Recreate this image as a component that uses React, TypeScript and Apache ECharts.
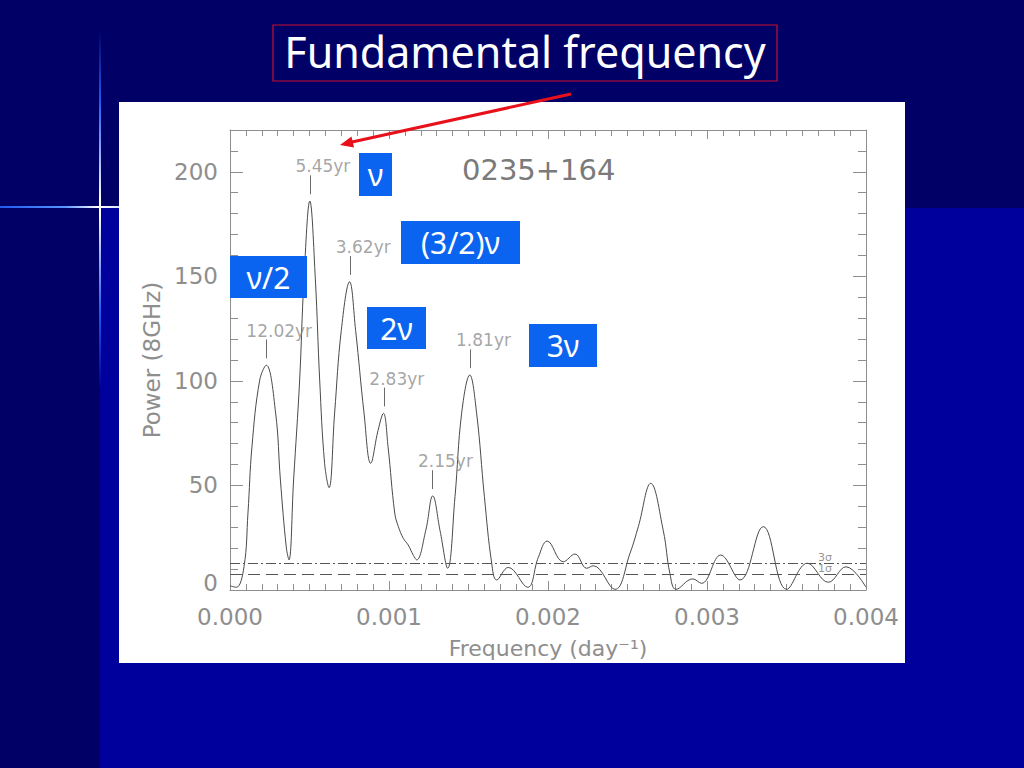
import React, { useEffect, useRef } from "react";
import * as echarts from "echarts";

// Periodogram of 0235+164 (power at 8 GHz vs frequency in day^-1)
const frequency = [
  0, 0.00004, 0.000088, 0.000113, 0.000138, 0.000187, 0.000228, 0.000287, 0.000317, 0.000354,
  0.000371, 0.0004, 0.000438, 0.000465, 0.000502, 0.000537, 0.000564, 0.000595, 0.000623, 0.000658,
  0.0007, 0.000752, 0.00079, 0.000843, 0.000885, 0.000931, 0.000965, 0.000994, 0.001036, 0.001059,
  0.00109, 0.001121, 0.001153, 0.001174, 0.001231, 0.001275, 0.001321, 0.001369, 0.001415, 0.001457,
  0.001508, 0.001551, 0.0016, 0.001646, 0.001677, 0.00175, 0.001872, 0.001939, 0.001995, 0.002096,
  0.00217, 0.002243, 0.002285, 0.002421, 0.002516, 0.002568, 0.002646, 0.002725, 0.002767, 0.002805,
  0.00291, 0.002966, 0.003086, 0.003208, 0.003354, 0.003501, 0.003631, 0.003763, 0.003874, 0.004,
];
const power = [
  2, 1.3, 11.1, 36.8, 68.5, 100.4, 107.5, 84.6, 52.6, 20.5,
  14.4, 52.6, 100.4, 148.3, 186, 148.3, 100.4, 60.6, 48.9, 84.6,
  124.2, 147.4, 124.2, 84.6, 60.6, 76.3, 84.5, 68.5, 36.8, 30.3,
  24.7, 21.5, 16.6, 14.4, 28.4, 45, 28.4, 10.4, 44.6, 84.6,
  102.8, 84.6, 44.6, 12.8, 4.8, 10.8, 1.3, 15.6, 23.4, 13.5,
  17.2, 10.4, 11.6, 0.3, 17.6, 30.3, 51, 28.4, 7.8, 0.3,
  5.3, 3.2, 16.7, 4.8, 30.3, 0.3, 12.8, 3.7, 11.1, 1.3,
];

const periodLabels = ["12.02yr", "5.45yr", "3.62yr", "2.83yr", "2.15yr", "1.81yr"];
const periodYears = [12.02, 5.45, 3.62, 2.83, 2.15, 1.81];
const periodPeakPower = [107.5, 186, 147.4, 84.5, 45, 102.8];

const sigmaLabels = ["3σ", "1σ"];
const sigmaLevels = [12.8, 7.5];

const harmonicLabels = ["ν", "(3/2)ν", "ν/2", "2ν", "3ν"];
const sourceName = "0235+164";
const slideTitle = "Fundamental frequency";
const xAxisTitle = "Frequency (day⁻¹)";
const yAxisTitle = "Power (8GHz)";

const GRAY = "#8e8e8e";
const FONT = "DejaVu Sans";

export default function App() {
  const ref = useRef<HTMLDivElement>(null);

  useEffect(() => {
    if (!ref.current) return;
    const chart = echarts.init(ref.current, undefined, { renderer: "svg" });

    const axisCommon = {
      type: "value" as const,
      axisLine: { show: true, onZero: false, lineStyle: { color: GRAY, width: 1 } },
      splitLine: { show: false },
    };

    const boxes = [
      { x: 359, y: 153, w: 33, h: 43 },
      { x: 401, y: 221, w: 119, h: 43 },
      { x: 230, y: 256, w: 77, h: 42 },
      { x: 367, y: 307, w: 59, h: 42 },
      { x: 529, y: 324, w: 68, h: 43 },
    ];

    const graphics: any[] = [
      { type: "rect", z: -20, shape: { x: 100, y: 208, width: 924, height: 560 }, style: { fill: "#00009c" } },
      { type: "rect", z: -19, shape: { x: 904, y: 208, width: 1, height: 455 }, style: { fill: "#3a64ff" } },
      { type: "rect", z: -18, shape: { x: 119, y: 102, width: 786, height: 561 }, style: { fill: "#ffffff" } },
      {
        type: "rect", z: -17, shape: { x: 99, y: 30, width: 2, height: 360 },
        style: {
          fill: new echarts.graphic.LinearGradient(0, 0, 0, 1, [
            { offset: 0, color: "rgba(40,100,255,0)" },
            { offset: 0.2, color: "rgba(40,100,255,0.9)" },
            { offset: 0.47, color: "#ffffff" },
            { offset: 0.51, color: "#ffffff" },
            { offset: 0.78, color: "rgba(40,100,255,0.9)" },
            { offset: 1, color: "rgba(40,100,255,0)" },
          ]),
        },
      },
      {
        type: "rect", z: -17, shape: { x: 0, y: 206, width: 119, height: 2 },
        style: {
          fill: new echarts.graphic.LinearGradient(0, 0, 1, 0, [
            { offset: 0, color: "rgba(40,100,255,0.9)" },
            { offset: 0.55, color: "rgba(90,150,255,1)" },
            { offset: 0.82, color: "#ffffff" },
            { offset: 1, color: "#dde8ff" },
          ]),
        },
      },
      { type: "rect", z: 40, shape: { x: 273, y: 25, width: 504, height: 56 }, style: { fill: "none", stroke: "#c8102e", lineWidth: 1.2 } },
      {
        type: "text", z: 41, x: 525, y: 51,
        style: { text: slideTitle, fill: "#ffffff", fontSize: 43, fontFamily: "Noto Sans", align: "center", verticalAlign: "middle", textAlign: "center", textVerticalAlign: "middle" },
      },
      { type: "line", z: 50, shape: { x1: 571, y1: 94, x2: 352, y2: 142 }, style: { stroke: "#e8101a", lineWidth: 3 } },
      { type: "polygon", z: 50, shape: { points: [[340, 145], [354, 147.5], [351.5, 136.5]] }, style: { fill: "#e8101a" } },
      {
        type: "text", z: 30, x: 462, y: 170,
        style: { text: sourceName, fill: "#7a7a7a", fontSize: 29, fontFamily: FONT, align: "left", verticalAlign: "middle", textAlign: "left", textVerticalAlign: "middle" },
      },
    ];
    harmonicLabels.forEach((lab, i) => {
      const b = boxes[i];
      graphics.push({ type: "rect", z: 60, shape: { x: b.x, y: b.y, width: b.w, height: b.h }, style: { fill: "#0a64f0" } });
      graphics.push({
        type: "text", z: 61, x: b.x + b.w / 2, y: b.y + b.h / 2,
        style: { text: lab, fill: "#ffffff", fontSize: 30, fontFamily: "Noto Sans", align: "center", verticalAlign: "middle", textAlign: "center", textVerticalAlign: "middle" },
      });
    });

    const option: any = {
      animation: false,
      backgroundColor: "#000066",
      grid: { left: 230, right: 158, top: 130, bottom: 178, containLabel: false },
      xAxis: [
        {
          ...axisCommon,
          position: "bottom",
          min: 0, max: 0.004, interval: 0.001,
          axisTick: { show: true, inside: true, length: 9, lineStyle: { color: GRAY } },
          minorTick: { show: true, splitNumber: 10, length: 6, lineStyle: { color: GRAY } },
          axisLabel: { formatter: (v: number) => v.toFixed(3), color: GRAY, fontSize: 23, fontFamily: FONT, margin: 15 },
          name: xAxisTitle, nameLocation: "middle", nameGap: 47,
          nameTextStyle: { color: GRAY, fontSize: 22, fontFamily: FONT },
        },
        {
          ...axisCommon,
          position: "top",
          min: 0, max: 0.004, interval: 0.001,
          axisTick: { show: true, inside: true, length: 9, lineStyle: { color: GRAY } },
          minorTick: { show: true, splitNumber: 10, length: 6, lineStyle: { color: GRAY } },
          axisLabel: { show: false },
        },
      ],
      yAxis: [
        {
          ...axisCommon,
          position: "left",
          min: 0, max: 220, interval: 50,
          axisTick: { show: true, inside: true, length: 13, lineStyle: { color: GRAY } },
          minorTick: { show: true, splitNumber: 5, length: 8, lineStyle: { color: GRAY } },
          axisLabel: {
            color: GRAY, fontSize: 23, fontFamily: FONT, margin: 12, showMaxLabel: false,
            formatter: (v: number) => (v === 0 ? "{z|0}" : v > 200 ? "" : String(v)),
            rich: { z: { color: GRAY, fontSize: 23, fontFamily: FONT, padding: [0, 0, 14, 0] } },
          },
          name: yAxisTitle, nameLocation: "middle", nameGap: 66,
          nameTextStyle: { color: GRAY, fontSize: 23, fontFamily: FONT },
        },
        {
          ...axisCommon,
          position: "right",
          min: 0, max: 220, interval: 50,
          axisTick: { show: true, inside: true, length: 13, lineStyle: { color: GRAY } },
          minorTick: { show: true, splitNumber: 5, length: 8, lineStyle: { color: GRAY } },
          axisLabel: { show: false },
        },
      ],
      graphic: { elements: graphics },
      series: [
        {
          type: "line",
          data: frequency.map((f, i) => [f, power[i]]),
          smooth: 0.4,
          showSymbol: false,
          symbol: "none",
          lineStyle: { color: "#4a4a4a", width: 1 },
          silent: true,
          z: 3,
          markLine: {
            silent: true,
            symbol: ["none", "none"],
            label: { show: false },
            data: [
              ...periodYears.map((p, i) => [
                { coord: [1 / (p * 365.25), periodPeakPower[i] + 3.3], lineStyle: { color: "#6a6a6a", type: "solid", width: 1 } },
                { coord: [1 / (p * 365.25), periodPeakPower[i] + 12.3] },
              ]),
              { yAxis: sigmaLevels[0], lineStyle: { color: "#555555", type: [10, 3, 2, 3], width: 1 } },
              { yAxis: sigmaLevels[1], lineStyle: { color: "#555555", type: [12, 6], width: 1 } },
            ],
          },
        },
        {
          type: "scatter",
          silent: true,
          symbolSize: 1,
          itemStyle: { color: "transparent" },
          z: 4,
          data: periodYears.map((p, i) => ({ name: periodLabels[i], value: [1 / (p * 365.25), periodPeakPower[i] + 12.3] })),
          label: { show: true, position: "top", distance: 0, offset: [13, 0], formatter: "{b}", color: GRAY, fontSize: 17, fontFamily: FONT },
        },
        {
          type: "scatter",
          silent: true,
          symbolSize: 1,
          itemStyle: { color: "transparent" },
          z: 4,
          data: sigmaLevels.map((s, i) => ({ name: sigmaLabels[i], value: [0.003742, s] })),
          label: { show: true, position: "top", distance: 0, formatter: "{b}", color: "#777777", fontSize: 11, fontFamily: FONT },
        },
      ],
    };

    chart.setOption(option);
    return () => chart.dispose();
  }, []);

  return <div ref={ref} style={{ position: "fixed", left: 0, top: 0, width: 1024, height: 768 }} />;
}
